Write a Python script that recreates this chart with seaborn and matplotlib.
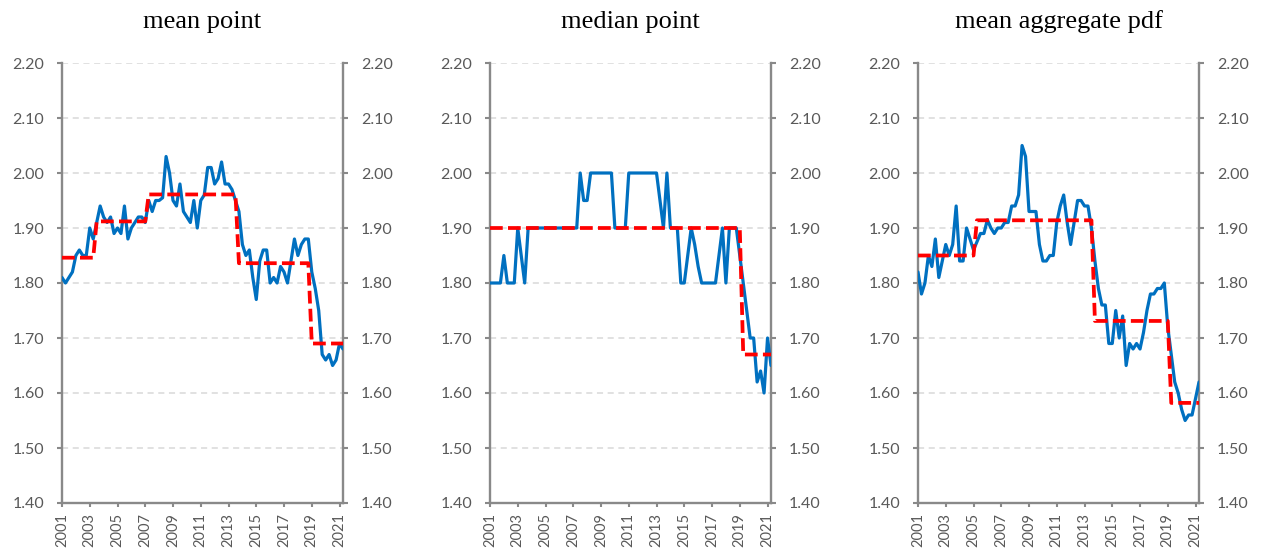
import numpy as np
import pandas as pd
import matplotlib
matplotlib.use("Agg")
import matplotlib.pyplot as plt
import seaborn as sns

# Quarterly observations, 2001Q1 - 2021Q2
n_quarters = 82
years = 2001 + np.arange(n_quarters) / 4

mean_point = [
    1.81, 1.80, 1.81, 1.82, 1.85, 1.86, 1.85, 1.85, 1.90, 1.88,
    1.91, 1.94, 1.92, 1.91, 1.92, 1.89, 1.90, 1.89, 1.94, 1.88,
    1.90, 1.91, 1.92, 1.92, 1.91, 1.95, 1.93, 1.95, 1.95, 1.955,
    2.03, 2.00, 1.95, 1.94, 1.98, 1.93, 1.92, 1.91, 1.95, 1.90,
    1.95, 1.96, 2.01, 2.01, 1.98, 1.99, 2.02, 1.98, 1.98, 1.97,
    1.95, 1.93, 1.87, 1.85, 1.86, 1.81, 1.77, 1.84, 1.86, 1.86,
    1.80, 1.81, 1.80, 1.83, 1.82, 1.80, 1.84, 1.88, 1.85, 1.87,
    1.88, 1.88, 1.82, 1.79, 1.75, 1.67, 1.66, 1.67, 1.65, 1.66,
    1.69, 1.68,
]

median_point = (
    [1.80] * 4 + [1.85] + [1.80] * 3 + [1.90, 1.85, 1.80]
    + [1.90] * 15 + [2.00, 1.95, 1.95] + [2.00] * 7 + [1.90] * 4
    + [2.00] * 9 + [1.95, 1.90, 2.00] + [1.90] * 3 + [1.80] * 2
    + [1.85, 1.90, 1.87, 1.83] + [1.80] * 5 + [1.85, 1.90, 1.80]
    + [1.90] * 3 + [1.85, 1.80, 1.75, 1.70, 1.70, 1.62, 1.64, 1.60,
                    1.70, 1.65]
)

mean_aggregate_pdf = [
    1.82, 1.78, 1.80, 1.85, 1.83, 1.88, 1.81, 1.84, 1.87, 1.85,
    1.87, 1.94, 1.84, 1.84, 1.90, 1.88, 1.86, 1.875, 1.89, 1.89,
    1.915, 1.90, 1.89, 1.90, 1.90, 1.91, 1.91, 1.94, 1.94, 1.96,
    2.05, 2.03, 1.93, 1.93, 1.93, 1.87, 1.84, 1.84, 1.85, 1.85,
    1.91, 1.94, 1.96, 1.91, 1.87, 1.91, 1.95, 1.95, 1.94, 1.94,
    1.90, 1.84, 1.79, 1.76, 1.76, 1.69, 1.69, 1.75, 1.70, 1.74,
    1.65, 1.69, 1.68, 1.69, 1.68, 1.71, 1.75, 1.78, 1.78, 1.79,
    1.79, 1.80, 1.72, 1.67, 1.62, 1.60, 1.57, 1.55, 1.56, 1.56,
    1.59, 1.62,
]

# Regime averages: first quarter index of each new regime, and its level
mean_point_breaks = [10, 25, 51, 72]
mean_point_levels = [1.846, 1.912, 1.961, 1.836, 1.690]
median_point_breaks = [73]
median_point_levels = [1.900, 1.670]
mean_pdf_breaks = [17, 51, 73]
mean_pdf_levels = [1.850, 1.914, 1.731, 1.582]

titles = ["mean point", "median point", "mean aggregate pdf"]
y_ticks = [1.40, 1.50, 1.60, 1.70, 1.80, 1.90, 2.00, 2.10, 2.20]
x_ticks = list(range(2001, 2022, 2))


def regime_series(breaks, levels):
    edges = [0] + list(breaks) + [n_quarters]
    return np.repeat(levels, np.diff(edges))


panels = [
    (titles[0], mean_point, regime_series(mean_point_breaks, mean_point_levels)),
    (titles[1], median_point, regime_series(median_point_breaks, median_point_levels)),
    (titles[2], mean_aggregate_pdf, regime_series(mean_pdf_breaks, mean_pdf_levels)),
]

sns.set_theme(style="white")
plt.rcParams["font.family"] = ["Lato", "DejaVu Sans"]

W, H = 1261, 550
fig = plt.figure(figsize=(W / 100, H / 100), dpi=100)
fig.patch.set_facecolor("white")

axis_grey = "#898989"
label_grey = "#595959"
lefts_px = [62, 490, 918]
width_px = 281
top_px, bottom_px = 63, 503

for left_px, (title, series, regime) in zip(lefts_px, panels):
    ax = fig.add_axes([left_px / W, 1 - bottom_px / H,
                       width_px / W, (bottom_px - top_px) / H])
    df = pd.DataFrame({"year": years, "value": series, "regime": regime})

    sns.lineplot(data=df, x="year", y="value", ax=ax, color="#0070C0",
                 linewidth=2.3, zorder=3)
    sns.lineplot(data=df, x="year", y="regime", ax=ax, color="#FF0000",
                 linewidth=2.7, linestyle=(0, (3.4, 1.4)), zorder=4)

    ax.set_xlim(2001, 2001 + (n_quarters - 1) / 4)
    ax.set_ylim(1.40, 2.20)
    ax.set_yticks(y_ticks)
    ax.set_yticklabels([f"{v:.2f}" for v in y_ticks])
    ax.set_xticks(x_ticks)
    ax.set_xticklabels([str(y) for y in x_ticks])
    ax.set_xlabel("")
    ax.set_ylabel("")

    ax.yaxis.grid(True, color="#d9d9d9", linestyle=(0, (4, 3)), linewidth=1.1)
    ax.xaxis.grid(False)
    ax.set_axisbelow(True)

    ax.spines["top"].set_visible(False)
    for side in ("left", "right", "bottom"):
        ax.spines[side].set_visible(True)
        ax.spines[side].set_color(axis_grey)
        ax.spines[side].set_linewidth(1.7)

    ax.tick_params(axis="y", which="both", left=True, right=True,
                   labelleft=True, labelright=True, direction="out",
                   length=3.8, width=1.5, color=axis_grey,
                   labelcolor=label_grey, labelsize=11.5, pad=9)
    ax.tick_params(axis="x", bottom=True, direction="out", length=3.2,
                   width=1.5, color=axis_grey, labelcolor=label_grey,
                   labelsize=10.5, pad=4, labelrotation=90)

    ax.set_title(title, fontfamily="Liberation Serif", fontsize=19,
                 color="black", pad=25)

fig.savefig("out.png", dpi=100, facecolor="white")
